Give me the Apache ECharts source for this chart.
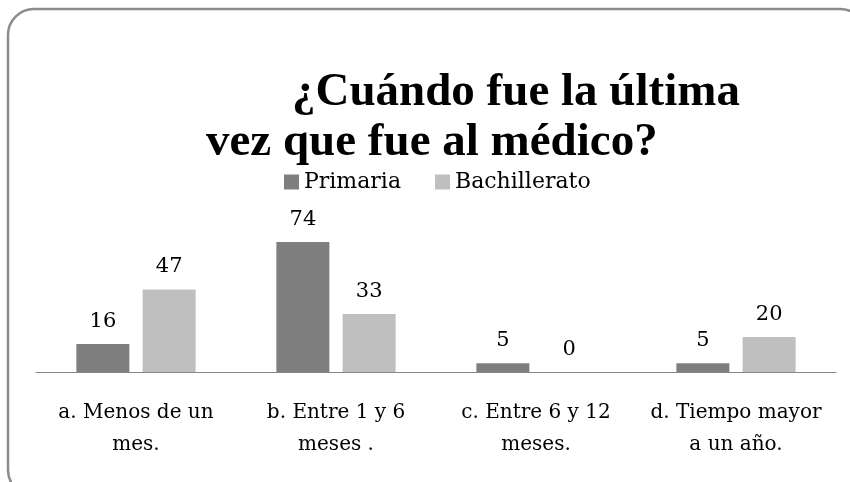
<!DOCTYPE html>
<html>
<head>
<meta charset="utf-8">
<script src="https://cdn.jsdelivr.net/npm/echarts@6/dist/echarts.min.js"></script>
<style>html,body{margin:0;padding:0;background:#fff;}#c{width:850px;height:482px;}</style>
</head>
<body>
<div id="c"></div>
<script>
const titleLines = ['¿Cuándo fue la última', 'vez que fue al médico?'];
const categories = ['a. Menos de un\nmes.', 'b. Entre 1 y 6\nmeses .', 'c. Entre 6 y 12\nmeses.', 'd. Tiempo mayor\na un año.'];
const seriesNames = ['Primaria', 'Bachillerato'];
const primaria = [16, 74, 5, 5];
const bachillerato = [47, 33, 0, 20];

const serif = '"DejaVu Serif", "Liberation Serif", serif';
const titleFont = {fontFamily: '"Liberation Serif", serif', fontWeight: 'bold', fontSize: 47, color: '#000'};
const chart = echarts.init(document.getElementById('c'), null, {renderer: 'canvas'});
const labelCfg = {show: true, position: 'top', distance: 12, color: '#000', fontFamily: serif, fontSize: 21};
chart.setOption({
  animation: false,
  backgroundColor: '#fff',
  title: [
    {text: titleLines[0], left: 292, top: 69, padding: 0, textStyle: titleFont},
    {text: titleLines[1], left: 206, top: 119, padding: 0, textStyle: titleFont}
  ],
  legend: {
    data: seriesNames, left: 284, top: 171, padding: 0,
    icon: 'rect', itemWidth: 15, itemHeight: 15, itemGap: 34,
    textStyle: {fontFamily: serif, fontSize: 22, color: '#000'}
  },
  graphic: [{
    type: 'rect', silent: true,
    shape: {x: 8, y: 9, width: 858, height: 487, r: 26},
    style: {fill: 'none', stroke: '#8c8c8c', lineWidth: 2.5}
  }],
  grid: {left: 36, right: 14, top: 231.5, bottom: 110, containLabel: false},
  xAxis: {
    type: 'category', data: categories,
    axisTick: {show: false},
    axisLine: {lineStyle: {color: '#868686', width: 1}},
    axisLabel: {interval: 0, margin: 25, fontFamily: serif, fontSize: 20, lineHeight: 32, color: '#000'}
  },
  yAxis: {type: 'value', min: 0, max: 80, show: false, splitLine: {show: false}},
  series: [
    {name: seriesNames[0], type: 'bar', data: primaria, barWidth: 53, barGap: '25%',
     itemStyle: {color: '#7f7f7f'}, label: labelCfg},
    {name: seriesNames[1], type: 'bar', data: bachillerato, barWidth: 53, barGap: '25%',
     itemStyle: {color: '#bfbfbf'}, label: labelCfg}
  ]
});
</script>
</body>
</html>
